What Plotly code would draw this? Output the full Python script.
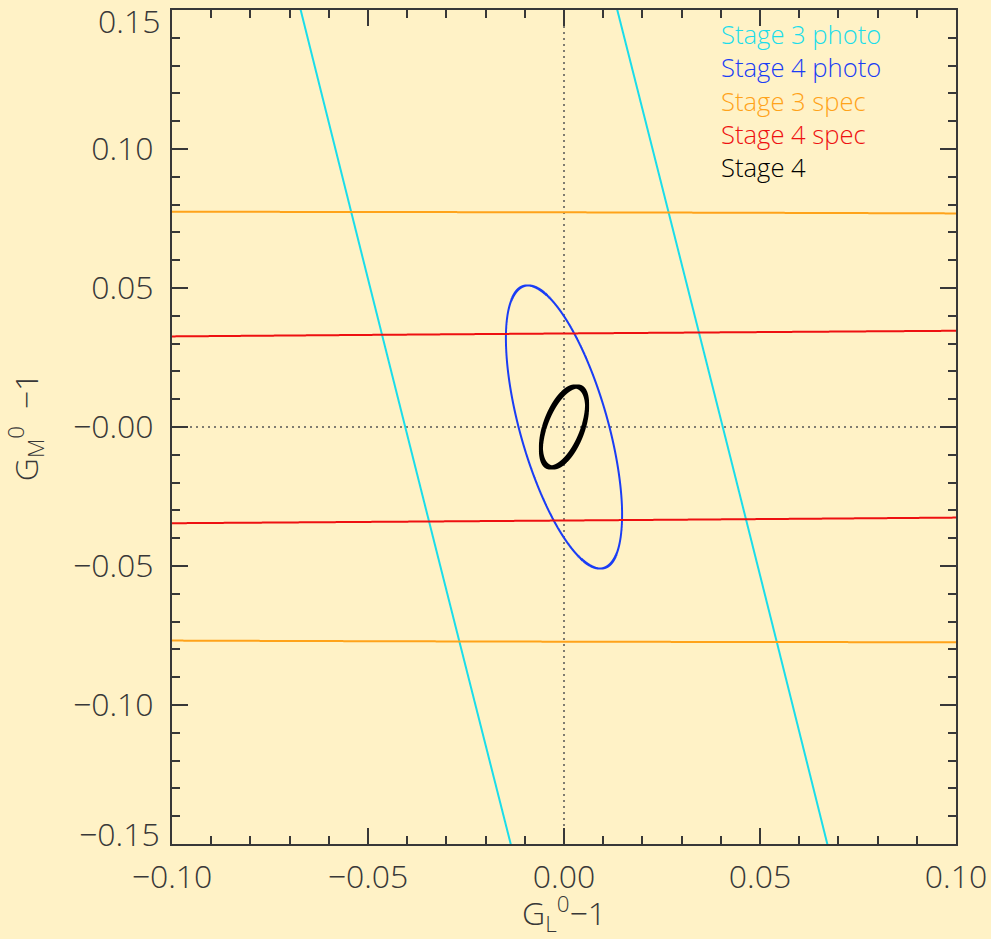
import numpy as np
import plotly.graph_objects as go

# Forecast contours: centre, semi-major / semi-minor axis and orientation (deg)
probes = ["Stage 3 photo", "Stage 4 photo", "Stage 3 spec", "Stage 4 spec", "Stage 4"]
centre_x = [0.0, 0.0, 0.0, 0.0, 0.0]
centre_y = [0.0, 0.0, 0.0, 0.0, 0.0]
semi_major = [2.0, 0.0518, 2.0, 2.0, 0.01494]
semi_minor = [0.03987, 0.0114, 0.07722, 0.03364, 0.00488]
angle_deg = [100.13, 100.8, -0.169, 0.58, 76.5]

colors = ["#1BDDEA", "#1A3DF5", "#FFA31A", "#EE1111", "#000000"]
widths = [2, 2, 2, 2, 4]

# axis ticks
x_ticks = [-0.10, -0.05, 0.0, 0.05, 0.10]
x_ticktext = ["\u22120.10", "\u22120.05", "0.00", "0.05", "0.10"]
y_ticks = [0.15, 0.10, 0.05, 0.0, -0.05, -0.10, -0.15]
y_ticktext = ["0.15", "0.10", "0.05", "\u22120.00", "\u22120.05", "\u22120.10", "\u22120.15"]

BG = "#FFF2C6"
INK = "#383838"
FONT = "Open Sans"
FS = 32

fig = go.Figure()

t = np.linspace(0.0, 2.0 * np.pi, 40001)
for name, cx, cy, a, b, ang, col, w in zip(probes, centre_x, centre_y, semi_major,
                                          semi_minor, angle_deg, colors, widths):
    th = np.radians(ang)
    u = a * np.cos(t)
    v = b * np.sin(t)
    xs = cx + u * np.cos(th) - v * np.sin(th)
    ys = cy + u * np.sin(th) + v * np.cos(th)
    fig.add_trace(go.Scatter(x=xs, y=ys, mode="lines", name=name,
                             line=dict(color=col, width=w, simplify=False),
                             hoverinfo="skip", showlegend=False))

# dotted reference lines through the fiducial model
fig.add_shape(type="line", xref="x", yref="paper", x0=0, x1=0, y0=0, y1=1,
              line=dict(color="#555555", width=1.5, dash="2px,4px"), layer="below")
fig.add_shape(type="line", xref="paper", yref="y", x0=0, x1=1, y0=0, y1=0,
              line=dict(color="#555555", width=1.5, dash="2px,4px"), layer="below")

# coloured text key, one line per probe
key_text = "<br>".join(f'<span style="color:{c}">{n}</span>'
                       for n, c in zip(probes, colors))
fig.add_annotation(text=key_text, xref="paper", yref="paper",
                   x=0.6975, y=0.9940, xanchor="left", yanchor="top",
                   align="left", showarrow=False,
                   font=dict(family=FONT, size=25.6, color=INK, weight=300))

tick_font = dict(family=FONT, size=FS, color=INK, weight=300)

# the end labels of the y axis sit just inside the frame
y_axis_text = [s if v not in (y_ticks[0], y_ticks[-1]) else ""
               for v, s in zip(y_ticks, y_ticktext)]
for v, s, shift in ((y_ticks[0], y_ticktext[0], -10), (y_ticks[-1], y_ticktext[-1], 11)):
    fig.add_annotation(text=s, xref="paper", yref="y", x=0, y=v, xshift=-10,
                       yshift=shift, xanchor="right", yanchor="middle",
                       showarrow=False, font=tick_font)

axis_common = dict(
    showline=True, linecolor=INK, linewidth=2, mirror="ticks",
    ticks="inside", ticklen=16, tickwidth=1.5, tickcolor=INK,
    showgrid=False, zeroline=False,
    tickfont=tick_font,
    minor=dict(dtick=0.01, ticks="inside", ticklen=8, tickwidth=1.5,
               tickcolor=INK, showgrid=False),
)

fig.update_xaxes(range=[-0.10, 0.10], tickvals=x_ticks, ticktext=x_ticktext,
                 tick0=-0.10, ticklabelstandoff=4, ticklabeloverflow="allow",
                 title=dict(text="G<sub>L</sub><sup>0</sup>\u22121", standoff=26,
                            font=dict(family=FONT, size=FS, color=INK, weight=300)),
                 **axis_common)
fig.update_yaxes(range=[-0.15, 0.15], tickvals=y_ticks, ticktext=y_axis_text,
                 tick0=-0.15, ticklabelstandoff=10, ticklabeloverflow="allow",
                 title=dict(text="G<sub>M</sub><sup>0</sup>  \u22121", standoff=25,
                            font=dict(family=FONT, size=FS, color=INK, weight=300)),
                 **axis_common)

fig.update_layout(
    width=991, height=939,
    margin=dict(l=172, r=35, t=10, b=95, autoexpand=False),
    paper_bgcolor=BG, plot_bgcolor=BG,
    showlegend=False,
)

fig.write_html("out.html")
